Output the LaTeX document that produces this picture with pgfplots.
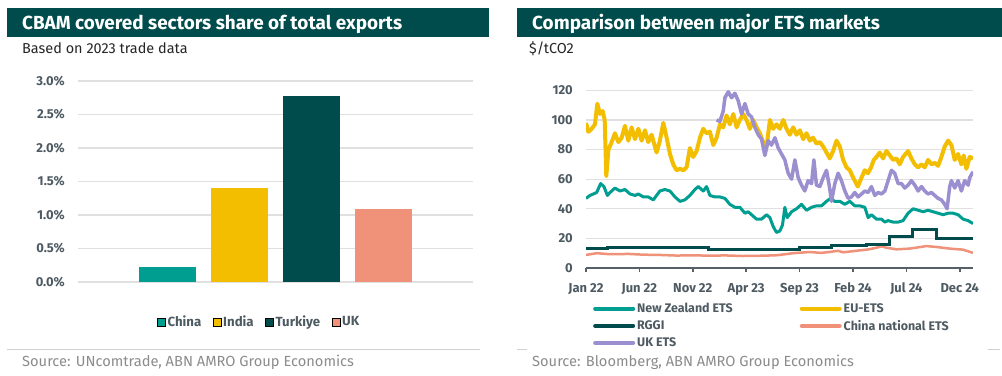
\documentclass[border=0pt]{standalone}
\usepackage{pgfplots}
\pgfplotsset{compat=1.18}
\usepackage{fontspec}
\setmainfont{Fira Sans}
\definecolor{abngreen}{RGB}{0,76,76}
\definecolor{abnteal}{RGB}{0,157,145}
\definecolor{abnyellow}{RGB}{243,190,0}
\definecolor{abnsalmon}{RGB}{240,145,122}
\definecolor{abnpurple}{RGB}{155,143,207}
\definecolor{ticktext}{RGB}{78,90,98}
\definecolor{axisgray}{RGB}{85,96,104}
\definecolor{gridgray}{RGB}{224,224,224}
\definecolor{srcgray}{RGB}{140,140,140}
\definecolor{sepgray}{RGB}{208,208,208}

\begin{document}
\begin{tikzpicture}
\path[use as bounding box] (0bp,0bp) rectangle (1002bp,-376bp);
\fill[white] (0bp,0bp) rectangle (1002bp,-376bp);
% title bars
\fill[abngreen] (7bp,-8bp) rectangle (489bp,-37bp);
\fill[abngreen] (517bp,-8bp) rectangle (1002bp,-37bp);
\node[anchor=base west, inner sep=0, text=white, font=\fontsize{19}{22}\selectfont\bfseries] at (22bp,-29.3bp) {CBAM covered sectors share of total exports};
\node[anchor=base west, inner sep=0, text=white, font=\fontsize{19}{22}\selectfont\bfseries] at (532bp,-29.3bp) {Comparison between major ETS markets};
\node[anchor=base west, inner sep=0, text=black!85, font=\fontsize{14.5}{17}\selectfont] at (22bp,-53.3bp) {Based on 2023 trade data};
\node[anchor=base west, inner sep=0, text=black!85, font=\fontsize{14.5}{17}\selectfont] at (529bp,-53.3bp) {\$/tCO2};
% separators and sources
\draw[sepgray, line width=1bp] (7bp,-349.3bp) -- (480bp,-349.3bp);
\draw[sepgray, line width=1bp] (517bp,-349.3bp) -- (527bp,-349.3bp);
\draw[sepgray, line width=1bp] (988bp,-349.3bp) -- (1000bp,-349.3bp);
\node[anchor=base west, inner sep=0, text=srcgray, font=\fontsize{14.7}{17}\selectfont] at (22bp,-366bp) {Source: UNcomtrade, ABN AMRO Group Economics};
\node[anchor=base west, inner sep=0, text=srcgray, font=\fontsize{14.7}{17}\selectfont] at (532bp,-366bp) {Source: Bloomberg, ABN AMRO Group Economics};

% ---------------- left chart
\begin{axis}[
  at={(78bp,-282bp)}, anchor=south west, scale only axis,
  width=395bp, height=201bp,
  xmin=-1.25, xmax=4.25, ymin=0, ymax=3,
  axis line style={draw=none},
  xtick=\empty,
  ytick={0,0.5,1,1.5,2,2.5,3},
  ymajorgrids, major grid style={gridgray, line width=1.3bp},
  tick style={draw=none},
  /pgf/number format/assume math mode=true,
  yticklabel={\pgfmathprintnumber[fixed,fixed zerofill,precision=1]{\tick}\%},
  yticklabel style={font=\fontsize{13}{15}\selectfont\bfseries, text=ticktext, inner sep=0pt, anchor=east, xshift=-13bp},
  legend image code/.code={\fill[#1] (0bp,-4bp) rectangle (8bp,4bp);},
  legend style={at={(0.2,0)}, anchor=west, yshift=-40bp, draw=none, fill=none, inner sep=0pt,
    font=\fontsize{13.3}{15}\selectfont\bfseries, text=ticktext,
    /tikz/every even column/.append style={column sep=9.5bp}},
  legend columns=4,
]
\addplot[ybar, bar width=57bp, fill=abnteal, draw=none, forget plot] coordinates {(0,0.22)};
\addplot[ybar, bar width=57bp, fill=abnyellow, draw=none, forget plot] coordinates {(1,1.40)};
\addplot[ybar, bar width=57bp, fill=abngreen, draw=none, forget plot] coordinates {(2,2.78)};
\addplot[ybar, bar width=57bp, fill=abnsalmon, draw=none, forget plot] coordinates {(3,1.09)};
\addlegendimage{fill=abnteal}\addlegendentry{China}
\addlegendimage{fill=abnyellow}\addlegendentry{India}
\addlegendimage{fill=abngreen}\addlegendentry{Turkiye}
\addlegendimage{fill=abnsalmon}\addlegendentry{UK}
\end{axis}

% ---------------- right chart
\begin{axis}[
  at={(586bp,-268bp)}, anchor=south west, scale only axis,
  width=387bp, height=177.7bp,
  xmin=0, xmax=36.24, ymin=0, ymax=120,
  axis x line*=bottom, axis y line*=left,
  axis line style={-},
  y axis line style={draw=none},
  x axis line style={draw=axisgray, line width=2.5bp},
  xtick={0,5,10,15,20,25,30,35},
  xticklabels={Jan 22,Jun 22,Nov 22,Apr 23,Sep 23,Feb 24,Jul 24,Dec 24},
  ytick={0,20,40,60,80,100,120},
  ymajorgrids, major grid style={gridgray, line width=1.3bp},
  xtick align=outside, major tick length=4bp,
  xtick style={draw=axisgray, line width=1.5bp},
  ytick style={draw=none},
  /pgf/number format/assume math mode=true,
  yticklabel style={font=\fontsize{13}{15}\selectfont\bfseries, text=ticktext, inner sep=0pt, anchor=east, xshift=-13bp},
  xticklabel style={font=\fontsize{13}{15}\selectfont\bfseries, text=ticktext, inner sep=0pt, anchor=base, yshift=-20bp},
  legend image code/.code={\draw[#1, line cap=round] (0bp,0bp) -- (38bp,0bp);},
  legend style={at={(0.018,0)}, anchor=north west, yshift=-33bp, draw=none, fill=none, inner sep=0pt,
    font=\fontsize{12.5}{14}\selectfont\bfseries, text=ticktext, row sep=2bp,
    /tikz/every even column/.append style={column sep=65bp}},
  legend columns=2, legend cell align=left,
]
\addplot[abnsalmon, line width=2.5bp, line join=round, forget plot] table {
0 8.8
1.0 10.0
2.25 9.3
4 9.5
5.36 9.0
7 8.8
8.48 8.4
10 8.6
11.6 8.3
13 8.5
14.72 8.1
16.5 8.3
17.84 8.6
19.40 10.0
20.96 10.8
22.0 10.2
22.52 10.6
23.61 11.6
24.08 10.6
25.64 11.9
26.5 12.6
27.20 13.7
27.67 14.6
28.13 13.7
29.07 12.6
30.32 13.1
31.88 14.8
32.81 14.2
34.06 13.1
35.31 12.4
36.24 10.2
};
\addplot[abngreen, line width=3bp, const plot, forget plot] table {
0 13.2
2 14.0
11.5 12.7
20 14.0
23 15.2
26.3 16.2
28.4 21.6
30.6 25.8
32.8 20.0
36.24 20.0
};
\addplot[abnteal, line width=3bp, line join=round, forget plot] table {
0 47
0.37 49
0.69 50
1.00 51
1.37 57
1.68 55
2.00 49
2.25 51
2.71 54
3.18 52
3.65 53
4.12 50
4.59 49
4.90 50
5.36 48
5.83 48
6.30 46
6.61 49
6.92 52
7.39 53
7.86 52
8.33 48
8.80 45
9.26 46
9.73 49
10.20 53
10.51 55
10.98 52
11.29 55
11.60 49
12.07 48
12.54 48
13.01 47
13.47 43
13.94 41
14.41 41
14.88 37
15.19 38
15.50 36
15.97 33
16.44 33
16.91 36
17.22 34
17.53 28
17.84 24
18.15 25
18.40 29
18.62 41
18.84 34
19.25 38
19.71 40
20.18 43
20.65 39
21.12 41
21.58 42
22.05 42
22.52 45
22.89 47
23.30 45
23.77 45
24.24 43
24.70 45
25.17 42
25.64 42
26.11 41
26.42 34
26.73 36
27.20 33
27.67 33
27.98 31
28.29 32
28.76 31
29.23 31
29.69 32
30.16 37
30.63 40
31.10 39
31.57 38
32.03 39
32.50 38
32.97 37
33.44 36
33.91 37
34.37 37
34.84 36
35.31 33
35.78 32
36.24 30
};
\addplot[abnyellow, line width=4bp, line join=round, forget plot] table {
0 98
0.22 92
0.53 94
0.84 97
1.06 111
1.31 104
1.56 106
1.75 100
1.90 62
2.10 80
2.40 85
2.71 91
3.03 85
3.34 88
3.65 96
3.96 86
4.27 95
4.59 87
4.90 94
5.21 86
5.52 93
5.83 85
6.14 90
6.61 78
6.92 86
7.24 98
7.55 88
7.86 77
8.17 70
8.48 66
8.80 67
9.11 66
9.42 68
9.73 81
10.04 75
10.36 79
10.67 88
10.98 94
11.29 91
11.60 92
11.92 83
12.23 88
12.54 97
12.85 95
13.16 103
13.47 97
13.79 104
14.10 95
14.41 100
14.72 104
15.03 100
15.35 94
15.66 100
15.97 95
16.28 91
16.59 85
16.91 82
17.22 100
17.53 94
17.84 97
18.15 94
18.47 100
18.78 94
19.09 90
19.40 95
19.71 90
20.02 93
20.34 87
20.65 91
20.96 86
21.27 88
21.58 84
21.90 85
22.21 82
22.52 78
22.83 74
23.14 79
23.46 86
23.77 82
24.08 73
24.39 68
24.70 66
25.02 61
25.45 55
25.80 61
26.10 66
26.40 64
26.70 68
26.95 73
27.20 75
27.51 78
27.82 74
28.13 79
28.45 76
28.76 73
29.07 74
29.38 70
29.69 75
30.16 79
30.47 74
30.79 70
31.10 68
31.41 70
31.72 68
32.03 73
32.35 70
32.66 71
32.97 69
33.28 75
33.59 82
33.91 86
34.22 83
34.53 73
34.84 77
35.15 70
35.37 76
35.62 67
35.93 75
36.24 74
};
\addplot[abnpurple, line width=3.5bp, line join=round, forget plot] table {
12.23 100
12.54 99
12.85 106
13.01 115
13.32 119
13.63 115
13.94 118
14.25 113
14.57 104
14.88 111
15.19 104
15.50 102
15.81 95
16.13 90
16.44 87
16.75 76
17.06 86
17.37 83
17.69 88
18.00 81
18.31 77
18.62 73
18.93 64
19.25 60
19.56 73
19.87 61
20.18 56
20.49 52
20.80 59
21.12 57
21.34 73
21.58 56
21.90 55
22.21 61
22.52 66
22.77 56
22.99 45
23.30 57
23.61 64
23.92 59
24.24 52
24.55 47
24.86 48
25.17 51
25.48 48
25.80 50
26.11 52
26.42 51
26.73 55
27.04 49
27.36 51
27.67 50
27.98 52
28.29 59
28.60 66
28.91 64
29.23 57
29.54 57
29.85 54
30.16 56
30.47 59
30.79 56
31.10 52
31.41 55
31.72 52
32.03 50
32.35 51
32.66 49
32.97 47
33.28 46
33.59 43
33.81 40
34.06 55
34.22 59
34.53 54
34.84 59
35.15 52
35.46 59
35.78 56
35.93 61
36.24 65
};
\addlegendimage{abnteal, line width=4bp}\addlegendentry{New Zealand ETS}
\addlegendimage{abnyellow, line width=4bp}\addlegendentry{EU-ETS}
\addlegendimage{abngreen, line width=4bp}\addlegendentry{RGGI}
\addlegendimage{abnsalmon, line width=4bp}\addlegendentry{China national ETS}
\addlegendimage{abnpurple, line width=4bp}\addlegendentry{UK ETS}
\end{axis}
\end{tikzpicture}
\end{document}
